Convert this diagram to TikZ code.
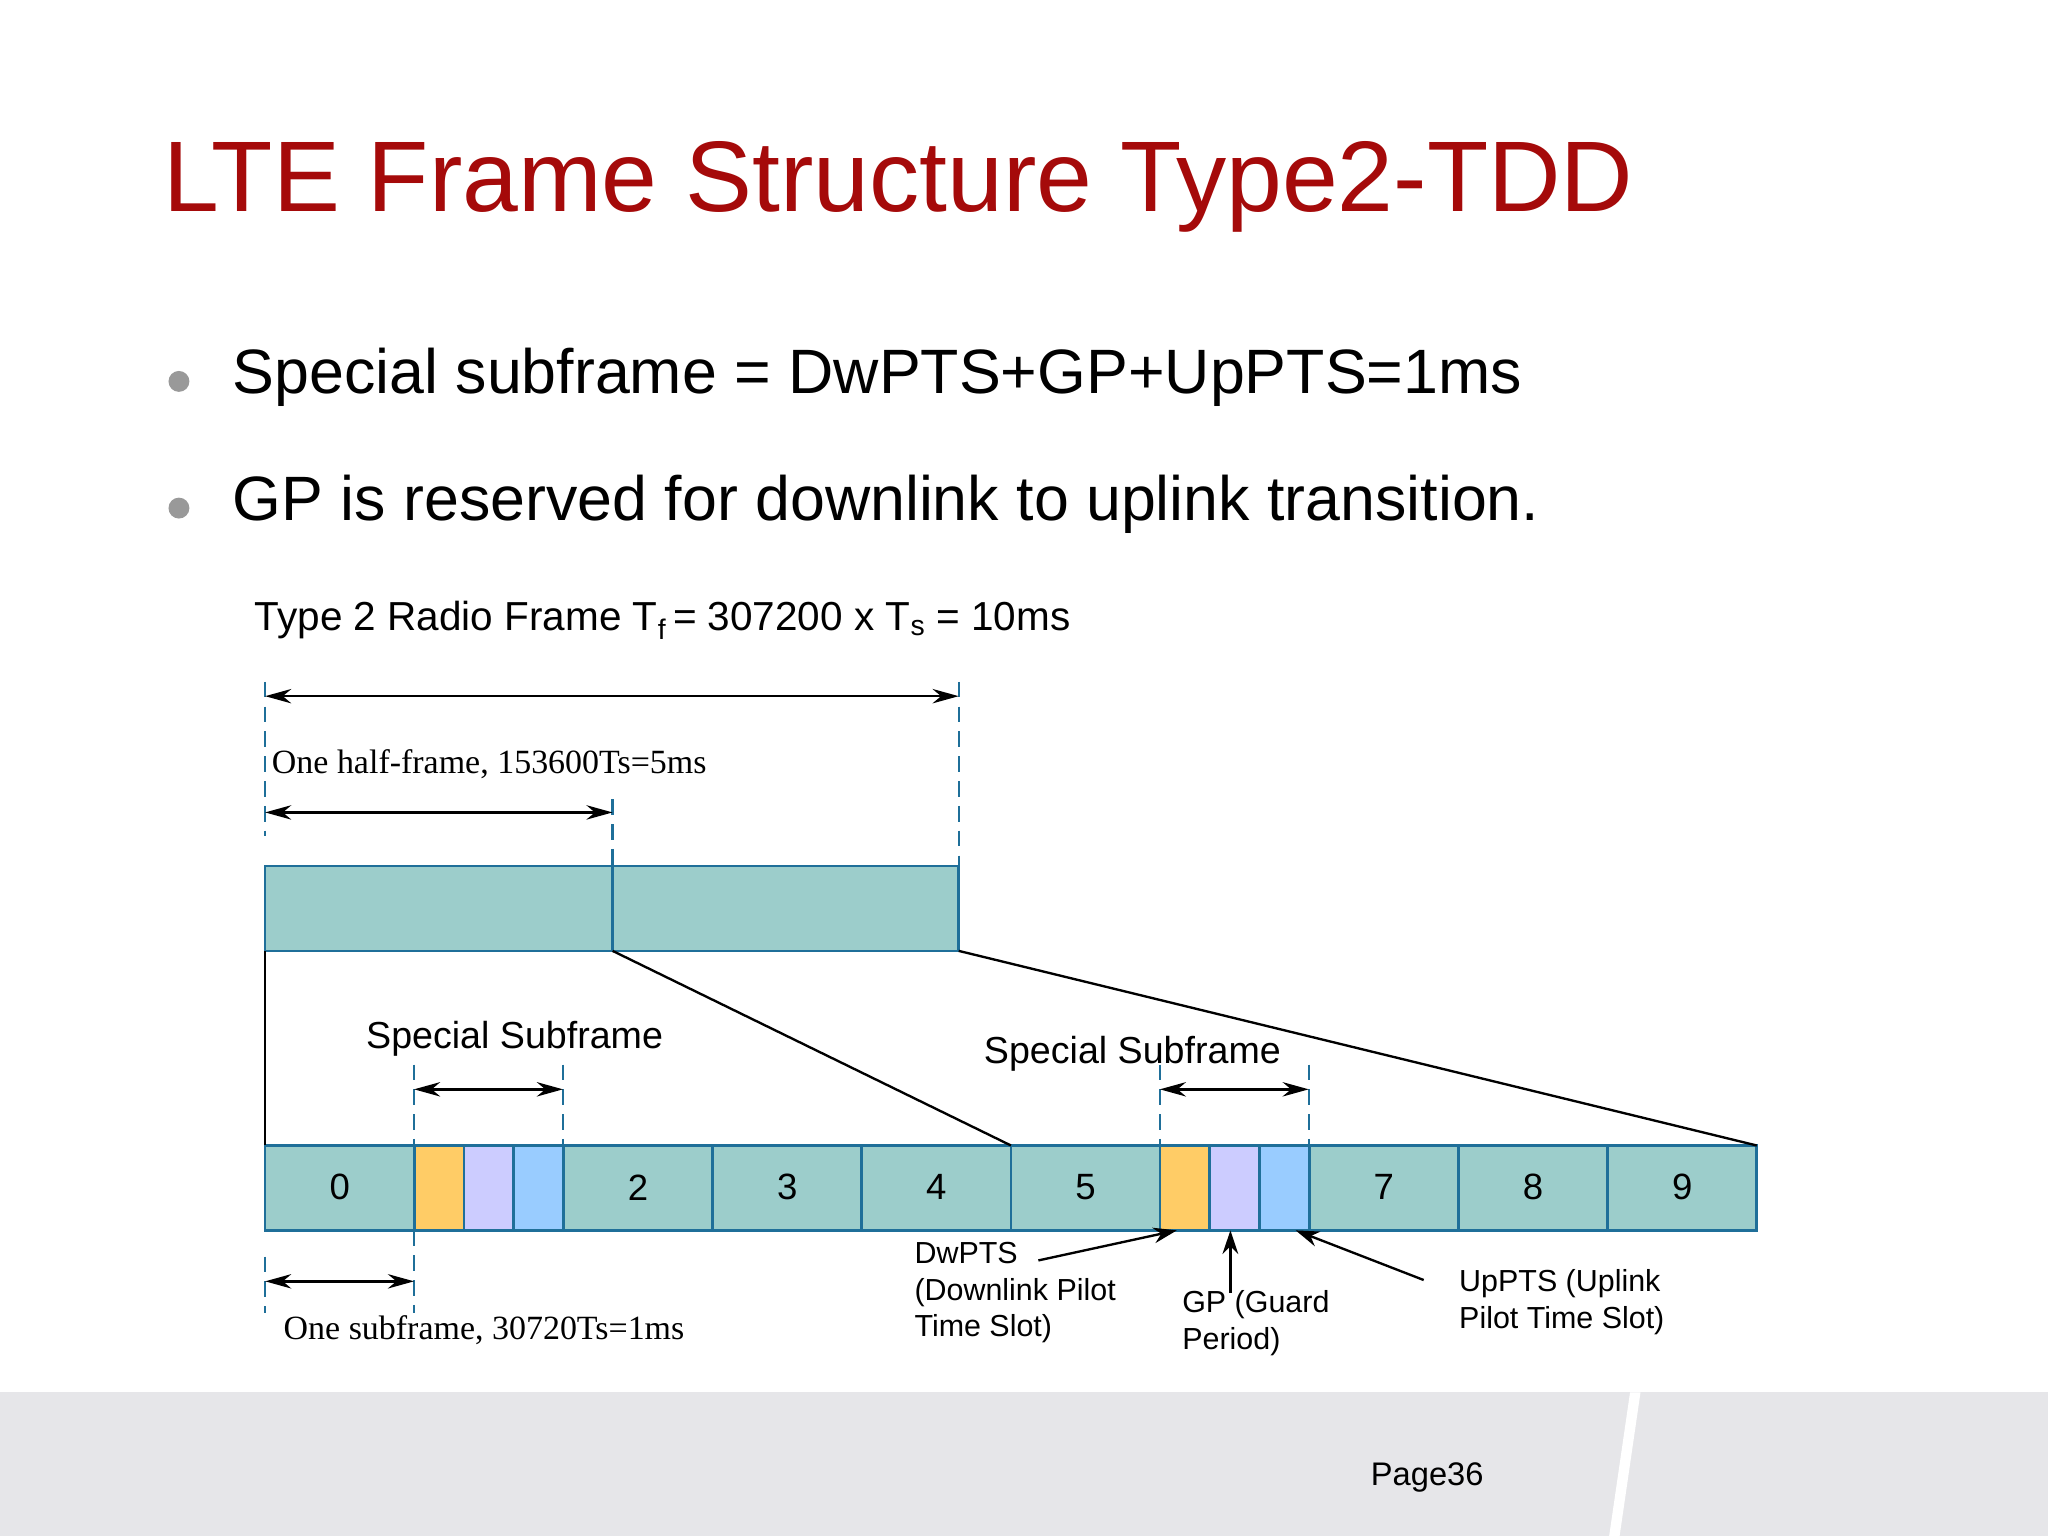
\documentclass[tikz,border=0pt]{standalone}
\usepackage{fontspec}
\setmainfont{Liberation Sans}
\newfontfamily\serf{Liberation Serif}
\usetikzlibrary{arrows.meta}
\definecolor{tred}{HTML}{A50A0A}
\definecolor{cellf}{HTML}{9CCDCB}
\definecolor{celld}{HTML}{1F6F99}
\definecolor{dwc}{HTML}{FFCC66}
\definecolor{gpc}{HTML}{CCCCFF}
\definecolor{upc}{HTML}{99CCFF}
\definecolor{band}{HTML}{E6E6E9}
\tikzset{
 cell/.style={draw=celld,line width=2pt},
 dim/.style={line width=2pt,{Stealth[length=20pt,width=11pt]}-{Stealth[length=20pt,width=11pt]}},
 dsh/.style={draw=celld,line width=1.8pt,dash pattern=on 12pt off 7pt},
 ptr/.style={line width=1.8pt,-{Stealth[length=18pt,width=12pt]}},
 lbl/.style={font=\fontsize{23.3}{28}\selectfont,align=left,inner sep=0pt},
 slbl/.style={font=\serf\fontsize{26}{30}\selectfont,inner sep=0pt},
}
\begin{document}
\begin{tikzpicture}[x=1pt,y=-1pt]
\useasboundingbox (0,0) rectangle (1568,1176);
\fill[white] (0,0) rectangle (1568,1176);
\fill[band] (0,1066) rectangle (1568,1176);
\fill[white] (1232,1176) -- (1248,1066) -- (1256,1066) -- (1240,1176) -- cycle;
\node[anchor=east,inner sep=0pt,font=\fontsize{25}{30}\selectfont] (pg) at (1136,1131) {Page36};
\node[anchor=west,inner sep=0pt,text=tred,font=\fontsize{76.8}{90}\selectfont] (title) at (125,143) {LTE Frame Structure Type2-TDD};
\fill[gray!80] (137,292) circle (8);
\fill[gray!80] (137,389) circle (8);
\node[anchor=west,inner sep=0pt,font=\fontsize{48}{56}\selectfont] (b1) at (178,289) {Special subframe = DwPTS+GP+UpPTS=1ms};
\node[anchor=west,inner sep=0pt,font=\fontsize{48}{56}\selectfont] (b2) at (178,386) {GP is reserved for downlink to uplink transition.};
\node[anchor=west,inner sep=0pt,font=\fontsize{31}{36}\selectfont] (rf) at (195,475) {Type 2 Radio Frame T\textsubscript{f}\,= 307200 x T\textsubscript{s} = 10ms};
% top frame
\draw[cell,fill=cellf] (203,663) rectangle (469,728);
\draw[cell,fill=cellf] (469,663) rectangle (734,728);
\coordinate (tl) at (203,728); \coordinate (tm) at (469,728); \coordinate (tr) at (734,728);
\draw[dsh] (203,522) -- (203,640);
\draw[dsh] (734,522) -- (734,663);
\draw[dsh] (469,612) -- (469,663);
\coordinate (a1) at (203,533); \coordinate (a2) at (734,533);
\draw[dim] (a1) -- (a2);
\coordinate (h1) at (203,622); \coordinate (h2) at (469,622);
\draw[dim] (h1) -- (h2);
\node[slbl,anchor=west] (hf) at (208,585) {One half-frame, 153600Ts=5ms};
% subframes
\foreach \i/\t in {0/0,2/2,3/3,4/4,5/5,7/7,8/8,9/9}{
 \draw[cell,fill=cellf] ({203+114.2*\i},877) rectangle ({203+114.2*(\i+1)},942);
 \node[font=\fontsize{28}{32}\selectfont] (c\i) at ({203+114.2*(\i+0.5)},909) {\t};
}
\foreach \s in {1,6}{
 \draw[cell,fill=dwc] ({203+114.2*\s},877) rectangle ({203+114.2*\s+38},942);
 \draw[cell,fill=gpc] ({203+114.2*\s+38},877) rectangle ({203+114.2*\s+76},942);
 \draw[cell,fill=upc] ({203+114.2*\s+76},877) rectangle ({203+114.2*(\s+1)},942);
}
\coordinate (bl) at (203,877); \coordinate (b5) at (774,877); \coordinate (br) at (1345,877);
\draw[line width=2pt] (tl) -- (bl);
\draw[line width=1.8pt] (tm) -- (b5);
\draw[line width=1.8pt] (tr) -- (br);
% special subframe marks
\draw[dsh] (317,815) -- (317,877); \draw[dsh] (431,815) -- (431,877);
\draw[dsh] (888,815) -- (888,877); \draw[dsh] (1002,815) -- (1002,877);
\coordinate (s1a) at (317,834); \coordinate (s1b) at (431,834);
\coordinate (s6a) at (888,834); \coordinate (s6b) at (1002,834);
\draw[dim] (s1a) -- (s1b); \draw[dim] (s6a) -- (s6b);
\node[font=\fontsize{28.8}{33}\selectfont,inner sep=0pt] (ss1) at (394,795) {Special Subframe};
\node[font=\fontsize{28.8}{33}\selectfont,inner sep=0pt] (ss6) at (867,807) {Special Subframe};
% one subframe
\draw[dsh] (203,962) -- (203,1005); \draw[dsh] (317,942) -- (317,1005);
\coordinate (o1) at (203,981); \coordinate (o2) at (317,981);
\draw[dim] (o1) -- (o2);
\node[slbl,anchor=west] (os) at (217,1018) {One subframe, 30720Ts=1ms};
% callouts
\node[lbl,anchor=north west] (dw) at (700,951) {DwPTS\\(Downlink Pilot\\Time Slot)};
\node[lbl,anchor=north west] (gp) at (905,988) {GP (Guard\\Period)};
\node[lbl,anchor=north west] (up) at (1117,972) {UpPTS (Uplink\\Pilot Time Slot)};
\coordinate (dwt) at (901,942); \coordinate (gpt) at (942,942); \coordinate (upt) at (992,942);
\draw[ptr] (795,965) -- (dwt);
\draw[ptr] (942,990) -- (gpt);
\draw[ptr] (1090,980) -- (upt);
\end{tikzpicture}
\end{document}
